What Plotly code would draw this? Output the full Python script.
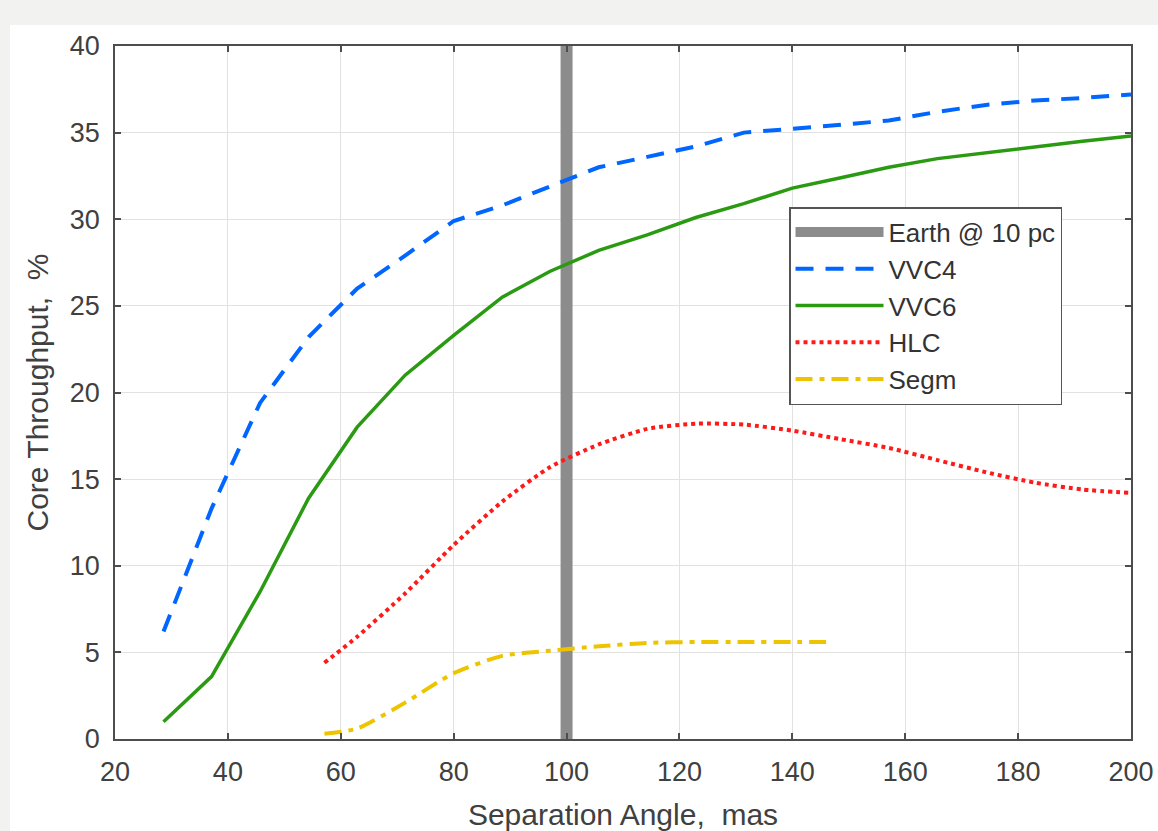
import plotly.graph_objects as go

# ---- data ----
earth_x = [100, 100]
earth_y = [0, 40]

vvc_x = [28.6, 37.1, 45.7, 54.3, 62.9, 71.4, 80.0, 88.6, 97.1, 105.7, 114.3,
         122.9, 131.4, 140.0, 148.6, 157.1, 165.7, 174.3, 182.9, 191.4, 200.0]
vvc4 = [6.2, 13.3, 19.4, 23.2, 26.0, 27.9, 29.9, 30.8, 31.9, 33.0, 33.6,
        34.2, 35.0, 35.2, 35.45, 35.7, 36.2, 36.6, 36.85, 37.0, 37.2]
vvc6 = [1.0, 3.6, 8.5, 13.9, 18.0, 21.0, 23.3, 25.5, 27.0, 28.2, 29.1,
        30.1, 30.9, 31.8, 32.4, 33.0, 33.5, 33.85, 34.2, 34.5, 34.8]

hlc_x = [57.1, 62.9, 71.4, 80.0, 88.6, 97.1, 105.7, 114.3, 122.9, 131.4,
         140.0, 148.6, 157.1, 165.7, 174.3, 182.9, 191.4, 200.0]
hlc = [4.4, 5.9, 8.4, 11.2, 13.7, 15.7, 17.0, 17.9, 18.2, 18.15,
       17.8, 17.3, 16.8, 16.1, 15.4, 14.8, 14.4, 14.2]

segm_x = [57.1, 62.9, 71.4, 80.0, 88.6, 97.1, 105.7, 114.3, 122.9, 131.4, 140.0, 147.0]
segm = [0.3, 0.6, 2.1, 3.8, 4.8, 5.1, 5.35, 5.55, 5.6, 5.6, 5.6, 5.6]

x_ticks = [20, 40, 60, 80, 100, 120, 140, 160, 180, 200]
y_ticks = [0, 5, 10, 15, 20, 25, 30, 35, 40]

FONT = "Arial, Liberation Sans, sans-serif"
TXT = "#404040"
PAGE = "#f2f2f0"

fig = go.Figure()
fig.add_trace(go.Scatter(x=earth_x, y=earth_y, mode="lines", name="Earth @ 10 pc",
                         line=dict(color="#8c8c8c", width=12)))
fig.add_trace(go.Scatter(x=vvc_x, y=vvc4, mode="lines", name="VVC4",
                         line=dict(color="#0066FF", width=4, dash="18px,12px")))
fig.add_trace(go.Scatter(x=vvc_x, y=vvc6, mode="lines", name="VVC6",
                         line=dict(color="#2a9a12", width=3.5)))
fig.add_trace(go.Scatter(x=hlc_x, y=hlc, mode="lines", name="HLC",
                         line=dict(color="#FF1a1a", width=4, dash="4px,4px",
                                   shape="spline", smoothing=0.6)))
fig.add_trace(go.Scatter(x=segm_x, y=segm, mode="lines", name="Segm",
                         line=dict(color="#EEC400", width=4, dash="17px,7px,5px,7px",
                                   shape="spline", smoothing=0.6)))

# white panel over light-gray page (in plot-area paper coordinates)
L, R, T, B = 115, 1131, 46, 739
W, H = R - L, B - T
fig.add_shape(type="rect", xref="paper", yref="paper", layer="below",
              x0=(10 - L) / W, x1=(1158 - L) / W,
              y0=(B - 831) / H, y1=(B - 25) / H,
              fillcolor="white", line=dict(width=0))

axis_common = dict(
    showline=True, linecolor="#4d4d4d", linewidth=1.5, mirror="ticks",
    ticks="inside", ticklen=6, tickwidth=1.5, tickcolor="#4d4d4d",
    showgrid=True, gridcolor="#e2e2e2", gridwidth=1, zeroline=False,
    tickfont=dict(family=FONT, size=27, color=TXT),
)

fig.update_xaxes(range=[20, 200], tickvals=x_ticks,
                 title=dict(text="Separation Angle,  mas", standoff=18,
                            font=dict(family=FONT, size=30, color=TXT)),
                 ticklabelstandoff=8, **axis_common)
fig.update_yaxes(range=[0, 40], tickvals=y_ticks,
                 title=dict(text="Core Throughput,  %", standoff=12,
                            font=dict(family=FONT, size=30, color=TXT)),
                 ticklabelstandoff=8, **axis_common)

fig.update_layout(
    width=1158, height=831,
    margin=dict(l=L, r=1158 - R, t=T, b=831 - B, autoexpand=False),
    paper_bgcolor=PAGE, plot_bgcolor="white",
    showlegend=True,
    legend=dict(x=(789 - L) / W, y=(B - 207) / H, xanchor="left", yanchor="top",
                bgcolor="white", bordercolor="#555555", borderwidth=1.5,
                font=dict(family=FONT, size=26, color="#333333"),
                itemwidth=88, tracegroupgap=0),
    font=dict(family=FONT, color=TXT),
)

fig.write_html(
    "out.html",
    config={"displayModeBar": False},
    post_script=("document.body.style.margin='0';"
                 "document.body.style.background='" + PAGE + "';"),
)
